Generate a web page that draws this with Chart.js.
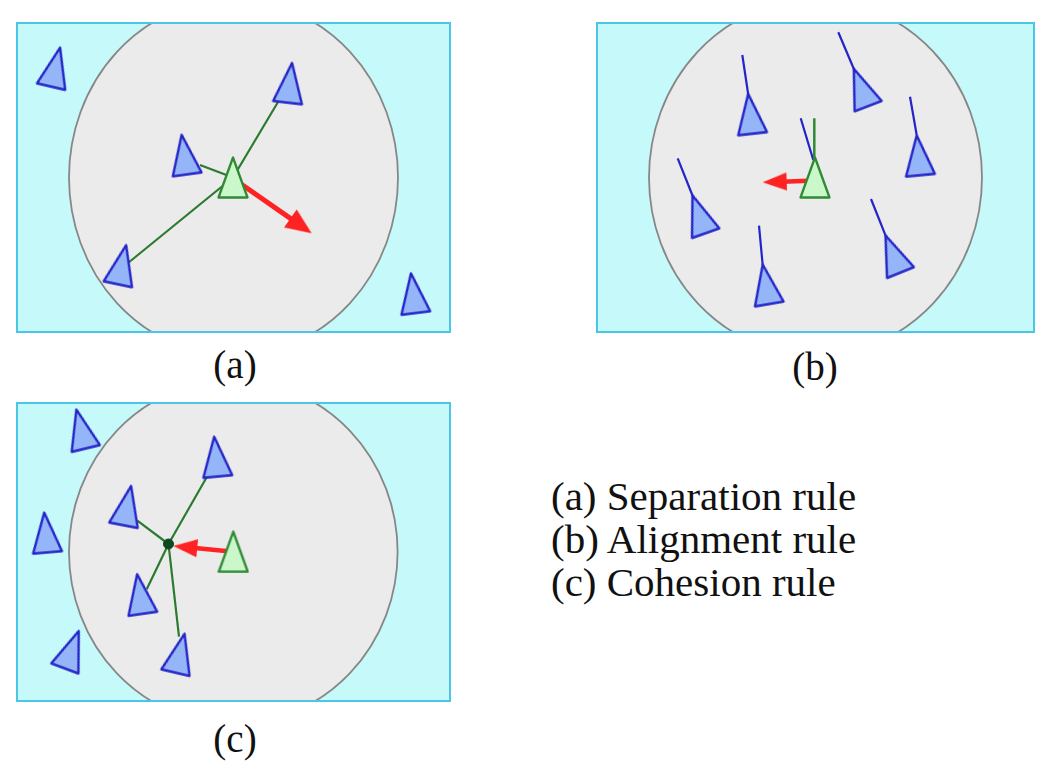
<!DOCTYPE html>
<html>
<head>
<meta charset="utf-8">
<script src="https://cdn.jsdelivr.net/npm/chart.js@4.4.1/dist/chart.umd.min.js"></script>
<style>
  html, body { margin: 0; padding: 0; background: #ffffff; }
  body { width: 1058px; height: 775px; position: relative; overflow: hidden; }
  canvas.panel { position: absolute; }
  .lbl { position: absolute; width: 120px; text-align: center; font-family: "Liberation Serif", "Times New Roman", "DejaVu Serif", serif; font-size: 39px; line-height: 39px; color: #111; white-space: nowrap; }
  .legend { position: absolute; left: 551px; top: 475px; font-family: "Liberation Serif", "Times New Roman", "DejaVu Serif", serif; font-size: 41px; line-height: 43px; color: #111; white-space: nowrap; }
</style>
</head>
<body>
<canvas id="pa" class="panel" width="435" height="311" style="left:16px;top:22px;"></canvas>
<canvas id="pb" class="panel" width="439" height="311" style="left:596px;top:22px;"></canvas>
<canvas id="pc" class="panel" width="435" height="300" style="left:16px;top:402px;"></canvas>
<div class="lbl" style="left:175px;top:345px;">(a)</div>
<div class="lbl" style="left:755px;top:347px;">(b)</div>
<div class="lbl" style="left:175px;top:719px;">(c)</div>
<div class="legend">(a) Separation rule<br>(b) Alignment rule<br>(c) Cohesion rule</div>
<script>
// ---------- DATA (diagram units: one unit = one pixel of each panel) ----------
// Panel (a) Separation rule
const sepBoidX = [39.6, 273.8, 168.4, 106.0, 397.4];
const sepBoidY = [45.1, 60.8, 132.6, 242.7, 271.2];
const sepBoidHeading = [13, 6.5, -8, 12, -7];
const sepSelfX = [217];
const sepSelfY = [155.5];
const sepLinkX = [262, 184, 112];
const sepLinkY = [80, 143, 241];
const sepSteerX = [295.7];
const sepSteerY = [211.3];
const sepRange = [217.5, 155.5, 164.5, 178];

// Panel (b) Alignment rule
const aliBoidX = [154.4, 265.0, 322.6, 103.1, 170.0, 297.0];
const aliBoidY = [91.8, 65.5, 133.3, 192.3, 262.3, 232.0];
const aliBoidHeading = [-6.4, -21, -5.4, -19.3, -9.5, -22];
const aliTailFromX = [152.3, 258.3, 320.7, 96.7, 166.7, 290.0, 217.3];
const aliTailFromY = [73.0, 48.0, 113.0, 174.0, 243.0, 214.7, 138.0];
const aliTailToX = [146.3, 242.3, 314.0, 81.7, 163.0, 275.0, 204.7];
const aliTailToY = [33.0, 10.3, 74.7, 136.3, 203.7, 177.0, 96.3];
const aliSelfX = [219];
const aliSelfY = [155.5];
const aliSelfTailX = [218.3, 218.3];
const aliSelfTailY = [138.0, 96.3];
const aliSteerX = [166.7];
const aliSteerY = [160.3];
const aliRange = [219.5, 155.5, 166.5, 178];

// Panel (c) Cohesion rule
const cohBoidX = [65.1, 200.0, 111.3, 29.9, 124.0, 55.8, 164.0];
const cohBoidY = [27.0, 54.6, 103.6, 130.5, 192.0, 247.7, 251.2];
const cohBoidHeading = [-13.6, -5.2, 11, -4.8, -8.2, 20.4, 13.2];
const cohSelfX = [217.3];
const cohSelfY = [149.7];
const cohCentreX = [152.5];
const cohCentreY = [142.0];
const cohLinkX = [190.7, 121.3, 130.7, 163.0];
const cohLinkY = [75.3, 118.7, 187.3, 234.7];
const cohSteerX = [157.3];
const cohSteerY = [144.0];
const cohRange = [217.3, 150.0, 164.3, 172];

// ---------- STYLES ----------
const SKY = '#c6fafa';
const FRAME = '#4cc6e6';
const RANGE_FILL = '#ebebeb';
const RANGE_LINE = '#878787';
const BLUE_FILL = '#94b6f8';
const BLUE_LINE = '#2424c8';
const GREEN_FILL = '#cbf8cb';
const GREEN_LINE = '#2f8a34';
const LINK = '#2b7a2f';
const RED = '#ff2222';
const DOT = '#0b4a1c';

function triImage(fill, stroke) {
  const c = document.createElement('canvas');
  c.width = 32; c.height = 43;
  const g = c.getContext('2d');
  g.beginPath();
  g.moveTo(16, 1.5); g.lineTo(30.5, 41.5); g.lineTo(1.5, 41.5); g.closePath();
  g.fillStyle = fill; g.fill();
  g.lineWidth = 2.3; g.lineJoin = 'round'; g.strokeStyle = stroke; g.stroke();
  return c;
}
function headImage(L, W) {
  const c = document.createElement('canvas');
  c.width = 2 * L; c.height = W;
  const g = c.getContext('2d');
  g.beginPath();
  g.moveTo(L, W / 2); g.lineTo(0, 0); g.lineTo(0, W); g.closePath();
  g.fillStyle = RED; g.fill();
  return c;
}
const BLUE_IMG = triImage(BLUE_FILL, BLUE_LINE);
const GREEN_IMG = triImage(GREEN_FILL, GREEN_LINE);

function pts(xs, ys) { return xs.map((x, i) => ({ x: x, y: ys[i] })); }

function boids(xs, ys, headings, img, order) {
  return { data: pts(xs, ys), pointStyle: img, pointRotation: headings, pointRadius: 20, pointHoverRadius: 20, order: order };
}
function segment(x1, y1, x2, y2, color, width, order) {
  return { data: [{ x: x1, y: y1 }, { x: x2, y: y2 }], showLine: true, borderColor: color, borderWidth: width, pointRadius: 0, pointHoverRadius: 0, order: order };
}
function links(fx, fy, xs, ys, color, width, order) {
  return xs.map((x, i) => segment(fx, fy, x, ys[i], color, width, order));
}
function arrow(sx, sy, tx, ty, L, W, lw, order) {
  const ang = Math.atan2(ty - sy, tx - sx);
  const bx = tx - 0.8 * L * Math.cos(ang), by = ty - 0.8 * L * Math.sin(ang);
  return [
    segment(sx, sy, bx, by, RED, lw, order),
    { data: [{ x: tx, y: ty }], pointStyle: headImage(L, W), pointRotation: ang * 180 / Math.PI, pointRadius: 10, pointHoverRadius: 10, order: order }
  ];
}

function panelPlugin(range) {
  return {
    id: 'panelBackground',
    beforeDatasetsDraw(chart) {
      const { ctx, chartArea: a, scales } = chart;
      const cx = scales.x.getPixelForValue(range[0]);
      const cy = scales.y.getPixelForValue(range[1]);
      const rx = Math.abs(scales.x.getPixelForValue(range[0] + range[2]) - cx);
      const ry = Math.abs(scales.y.getPixelForValue(range[1] + range[3]) - cy);
      ctx.save();
      ctx.fillStyle = SKY;
      ctx.fillRect(a.left, a.top, a.right - a.left, a.bottom - a.top);
      ctx.beginPath();
      ctx.rect(a.left, a.top, a.right - a.left, a.bottom - a.top);
      ctx.clip();
      ctx.beginPath();
      ctx.ellipse(cx, cy, rx, ry, 0, 0, Math.PI * 2);
      ctx.fillStyle = RANGE_FILL; ctx.fill();
      ctx.lineWidth = 1.8; ctx.strokeStyle = RANGE_LINE; ctx.stroke();
      ctx.restore();
    },
    afterDraw(chart) {
      const { ctx, chartArea: a } = chart;
      ctx.save();
      ctx.lineWidth = 2; ctx.strokeStyle = FRAME;
      ctx.strokeRect(a.left + 1, a.top + 1, a.right - a.left - 2, a.bottom - a.top - 2);
      ctx.restore();
    }
  };
}

function makePanel(id, range, datasets) {
  const cv = document.getElementById(id);
  const W = cv.width, H = cv.height;
  new Chart(cv, {
    type: 'scatter',
    data: { datasets: datasets },
    options: {
      responsive: false,
      animation: false,
      events: [],
      layout: { padding: 0, autoPadding: false },
      plugins: { legend: { display: false }, tooltip: { enabled: false } },
      scales: {
        x: { type: 'linear', min: 0, max: W, display: false },
        y: { type: 'linear', min: 0, max: H, reverse: true, display: false }
      }
    },
    plugins: [panelPlugin(range)]
  });
}

// Panel (a)
makePanel('pa', sepRange, [].concat(
  links(sepSelfX[0], sepSelfY[0], sepLinkX, sepLinkY, LINK, 2.2, 5),
  arrow(sepSelfX[0] + 3, sepSelfY[0] + 3, sepSteerX[0], sepSteerY[0], 26, 22, 5, 3),
  [boids(sepBoidX, sepBoidY, sepBoidHeading, BLUE_IMG, 2)],
  [boids(sepSelfX, sepSelfY, [0], GREEN_IMG, 1)]
));

// Panel (b)
makePanel('pb', aliRange, [].concat(
  aliTailFromX.map((x, i) => segment(x, aliTailFromY[i], aliTailToX[i], aliTailToY[i], BLUE_LINE, 2.2, 5)),
  [segment(aliSelfTailX[0], aliSelfTailY[0], aliSelfTailX[1], aliSelfTailY[1], GREEN_LINE, 2.5, 4)],
  arrow(aliSelfX[0], aliSelfY[0] + 3, aliSteerX[0], aliSteerY[0], 24, 18, 4.5, 3),
  [boids(aliBoidX, aliBoidY, aliBoidHeading, BLUE_IMG, 2)],
  [boids(aliSelfX, aliSelfY, [0], GREEN_IMG, 1)]
));

// Panel (c)
makePanel('pc', cohRange, [].concat(
  links(cohCentreX[0], cohCentreY[0], cohLinkX, cohLinkY, LINK, 2.2, 5),
  arrow(cohSelfX[0], cohSelfY[0], cohSteerX[0], cohSteerY[0], 24, 18, 4.5, 3),
  [boids(cohBoidX, cohBoidY, cohBoidHeading, BLUE_IMG, 2)],
  [boids(cohSelfX, cohSelfY, [0], GREEN_IMG, 1)],
  [{ data: pts(cohCentreX, cohCentreY), pointStyle: 'circle', pointRadius: 5, pointHoverRadius: 5, backgroundColor: DOT, borderColor: DOT, borderWidth: 1, order: 0 }]
));
</script>
</body>
</html>
